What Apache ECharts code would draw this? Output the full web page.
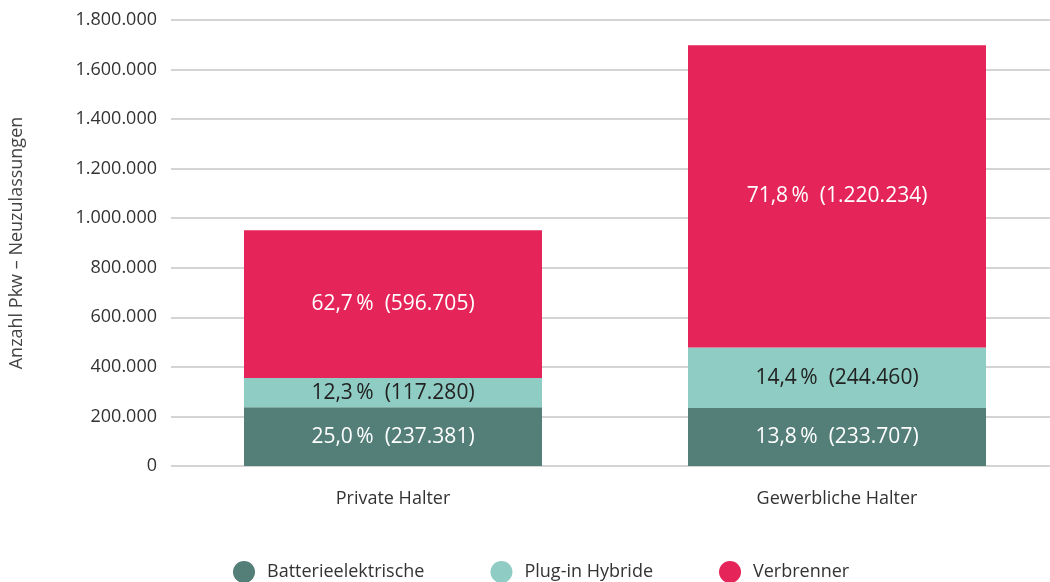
<!DOCTYPE html>
<html>
<head>
<meta charset="utf-8">
<script src="https://cdn.jsdelivr.net/npm/echarts@6/dist/echarts.min.js"></script>
<style>
  html, body { margin: 0; padding: 0; background: #fff; overflow: hidden; }
  #chart { width: 1059px; height: 582px; }
</style>
</head>
<body>
<div id="chart"></div>
<script>
// data
const categories = ['Private Halter', 'Gewerbliche Halter'];
const seriesNames = ['Batterieelektrische', 'Plug-in Hybride', 'Verbrenner'];
const batterie = [237381, 233707];
const plugin = [117280, 244460];
const verbrenner = [596705, 1220234];
const batteriePct = ['25,0', '13,8'];
const pluginPct = ['12,3', '14,4'];
const verbrennerPct = ['62,7', '71,8'];
const colors = ['#537f78', '#8fcdc4', '#e5245a'];

const font = '"Open Sans", "Noto Sans", sans-serif';

function fmt(v) {
  return String(v).replace(/\B(?=(\d{3})+(?!\d))/g, '.');
}

function makeSeries(name, data, pct, color, textColor) {
  return {
    name: name,
    type: 'bar',
    stack: 'total',
    barWidth: 298,
    data: data,
    itemStyle: { color: color },
    label: {
      show: true,
      position: 'inside',
      color: textColor,
      fontFamily: font,
      fontSize: 21,
      formatter: function (p) {
        return pct[p.dataIndex] + '\u2009%  (' + fmt(p.value) + ')';
      }
    }
  };
}

const chart = echarts.init(document.getElementById('chart'));
chart.setOption({
  animation: false,
  textStyle: { fontFamily: font },
  // grid runs past the right edge of the window, like the source
  grid: { left: 171, right: 0, top: 20, bottom: 116 },
  legend: {
    bottom: -6,
    left: 228,
    itemGap: 66,
    icon: 'circle',
    itemWidth: 22,
    itemHeight: 22,
    textStyle: { fontSize: 18, color: '#333', fontFamily: font, padding: [0, 0, 0, 7] },
    data: seriesNames
  },
  xAxis: {
    type: 'category',
    data: categories,
    axisLine: { show: false },
    axisTick: { show: false },
    axisLabel: { color: '#333', fontSize: 18, margin: 24, fontFamily: font }
  },
  yAxis: {
    type: 'value',
    min: 0,
    max: 1800000,
    interval: 200000,
    name: 'Anzahl Pkw – Neuzulassungen',
    nameLocation: 'middle',
    nameRotate: 90,
    nameGap: 145,
    nameTextStyle: { color: '#444', fontSize: 18, fontFamily: font },
    axisLine: { show: false },
    axisTick: { show: false },
    axisLabel: { color: '#333', fontSize: 18, margin: 14, fontFamily: font, formatter: fmt },
    splitLine: { lineStyle: { color: '#d4d4d4', width: 2 } }
  },
  series: [
    makeSeries(seriesNames[0], batterie, batteriePct, colors[0], '#fff'),
    makeSeries(seriesNames[1], plugin, pluginPct, colors[1], '#222'),
    makeSeries(seriesNames[2], verbrenner, verbrennerPct, colors[2], '#fff')
  ]
});
</script>
</body>
</html>
